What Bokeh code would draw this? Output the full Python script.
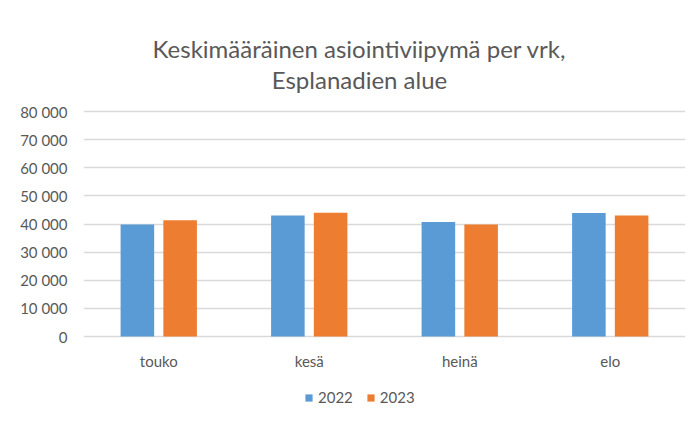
from bokeh.plotting import figure
from bokeh.models import (ColumnDataSource, FactorRange, Range1d, FixedTicker,
                          CustomJSTickFormatter, Label, Legend, LegendItem)
from bokeh.core.properties import value
from bokeh.transform import dodge
from bokeh.embed import file_html
from bokeh.resources import INLINE

months = ["touko", "kesä", "heinä", "elo"]
series_names = ["2022", "2023"]
values_2022 = [39800, 43000, 40700, 43900]
values_2023 = [41300, 44000, 39800, 43000]
y_ticks = [0, 10000, 20000, 30000, 40000, 50000, 60000, 70000, 80000]
title_lines = ["Keskimääräinen asiointiviipymä per vrk,", "Esplanadien alue"]
colors = ["#5B9BD5", "#ED7D31"]

FONT = "Lato"
GREY = "#595959"

# layout geometry (pixels)
W, H = 698, 422
LEFT, RIGHT = 83, 13
ZERO_PX, TOP_PX = 336, 111          # pixel rows of 0 and 80 000
UPP = 80000 / (ZERO_PX - TOP_PX)     # data units per pixel
Y0 = -(H - ZERO_PX) * UPP
Y1 = 80000 + TOP_PX * UPP

def ypix(py):
    """data value for a pixel row of the canvas"""
    return (ZERO_PX - py) * UPP

src = ColumnDataSource(dict(months=months, v2022=values_2022, v2023=values_2023))

p = figure(width=W, height=H, output_backend="svg", toolbar_location=None,
           x_range=FactorRange(*months, range_padding=0), y_range=Range1d(Y0, Y1),
           min_border_left=LEFT, min_border_right=RIGHT, min_border_top=0,
           min_border_bottom=0, title=None)
p.outline_line_color = None
p.background_fill_color = "white"
p.border_fill_color = "white"

r1 = p.vbar(x=dodge("months", -0.142, range=p.x_range), top="v2022", width=0.223,
            source=src, fill_color=colors[0], line_color=None)
r2 = p.vbar(x=dodge("months", 0.142, range=p.x_range), top="v2023", width=0.223,
            source=src, fill_color=colors[1], line_color=None)

# category labels under the bars
p.text(x="months", y=ypix(360), text="months", source=src, text_align="center",
       text_baseline="middle", text_font=value(FONT), text_font_size="15px",
       text_color=GREY)

# y axis
p.xaxis.visible = False
p.yaxis.ticker = FixedTicker(ticks=y_ticks)
p.yaxis.formatter = CustomJSTickFormatter(code="""
    return tick.toString().replace(/\\B(?=(\\d{3})+(?!\\d))/g, "\\u00a0");
""")
ax = p.yaxis[0]
ax.axis_line_color = None
ax.major_tick_line_color = None
ax.minor_tick_line_color = None
ax.major_tick_in = 0
ax.major_tick_out = 0
ax.major_label_text_font = FONT
ax.major_label_text_font_size = "15px"
ax.major_label_text_color = GREY
ax.major_label_standoff = 16

p.xgrid.grid_line_color = None
p.ygrid.ticker = FixedTicker(ticks=y_ticks)
p.ygrid.grid_line_color = "#d9d9d9"
p.ygrid.grid_line_width = 1.5

# two-line centred title
for txt, base in zip(title_lines, [47.5, 78.5]):
    p.add_layout(Label(x=1.834, y=ypix(base), text=txt, text_align="center",
                       text_baseline="alphabetic", text_font=FONT,
                       text_font_size="24px", text_color=GREY))

legend = Legend(items=[LegendItem(label=series_names[0], renderers=[r1]),
                       LegendItem(label=series_names[1], renderers=[r2])],
                orientation="horizontal", location=(221, 16))
legend.border_line_color = None
legend.background_fill_alpha = 0
legend.padding = 0
legend.margin = 0
legend.spacing = 13
legend.glyph_width = 9
legend.glyph_height = 9
legend.label_height = 18
legend.label_standoff = 5
legend.label_text_font = FONT
legend.label_text_font_size = "15px"
legend.label_text_color = GREY
p.add_layout(legend, "center")

open("out.html", "w").write(file_html(p, INLINE))
